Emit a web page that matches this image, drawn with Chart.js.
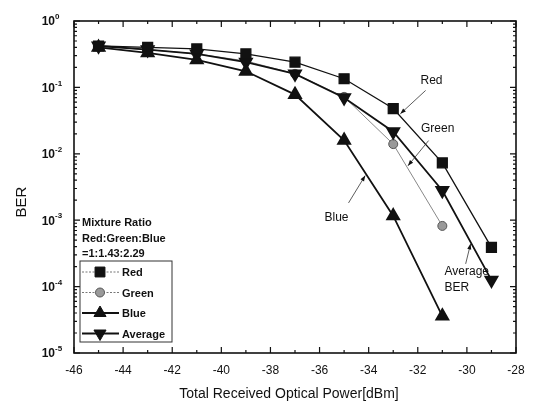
<!DOCTYPE html>
<html>
<head>
<meta charset="utf-8">
<script src="https://cdn.jsdelivr.net/npm/chart.js@4/dist/chart.umd.min.js"></script>
<style>
  html, body { margin: 0; padding: 0; background: #fff; }
  #wrap { width: 536px; height: 401px; }
</style>
</head>
<body>
<div id="wrap"><canvas id="chart" width="536" height="401"></canvas></div>
<script>
// 横軸の値 (dBm) と各色の BER
const powers = [-45, -43, -41, -39, -37, -35, -33, -31, -29];
const redBer = [0.42, 0.40, 0.38, 0.32, 0.24, 0.135, 0.048, 0.0073, 0.00039];
const greenBer = [0.42, 0.37, 0.32, 0.25, 0.16, 0.072, 0.014, 0.00082];
const blueBer = [0.40, 0.33, 0.26, 0.175, 0.078, 0.016, 0.00116, 0.000036];
const averageBer = [0.42, 0.37, 0.32, 0.24, 0.16, 0.07, 0.0215, 0.0028, 0.000125];

const xTicks = [-46, -44, -42, -40, -38, -36, -34, -32, -30, -28];
const yExponents = [0, -1, -2, -3, -4, -5];
const ratioText = ["Mixture Ratio", "Red:Green:Blue", "=1:1.43:2.29"];
const legendNames = ["Red", "Green", "Blue", "Average"];

// 注記 (文字位置と矢印はデータ座標)
const notes = [
  { lines: ["Red"], x: -31.44, y: 0.127, align: "center", from: [-31.68, 0.09], to: [-32.71, 0.04] },
  { lines: ["Green"], x: -31.19, y: 0.024, align: "center", from: [-31.56, 0.0158], to: [-32.4, 0.0066] },
  { lines: ["Blue"], x: -35.31, y: 0.00108, align: "center", from: [-34.82, 0.00182], to: [-34.14, 0.0047] },
  { lines: ["Average", "BER"], x: -30.91, y: 0.00017, align: "left", from: [-30.05, 0.00022], to: [-29.85, 0.00044] }
];

const FONT = "'Liberation Sans', Arial, sans-serif";

function pairs(ys) {
  return ys.map((y, i) => ({ x: powers[i], y: y }));
}

const datasets = [
  { label: "Red", data: pairs(redBer), borderColor: "#111", borderWidth: 1.3, pointStyle: "rect", pointRadius: 7,
    pointBackgroundColor: "#111", pointBorderColor: "#111" },
  { label: "Green", data: pairs(greenBer), order: 1, borderColor: "#888", borderWidth: 1, pointStyle: "circle", pointRadius: 4.5,
    pointBackgroundColor: "#9a9a9a", pointBorderColor: "#555", pointBorderWidth: 1 },
  { label: "Blue", data: pairs(blueBer), borderColor: "#111", borderWidth: 1.8, pointStyle: "triangle", pointRadius: 7,
    pointBackgroundColor: "#111", pointBorderColor: "#111" },
  { label: "Average", data: pairs(averageBer), borderColor: "#111", borderWidth: 1.8, pointStyle: "triangle", pointRotation: 180,
    pointRadius: 7, pointBackgroundColor: "#111", pointBorderColor: "#111" }
];

// 軸の目盛り・枠・文字・凡例・注記をまとめて描く
const decorPlugin = {
  id: "decor",
  afterDraw(chart) {
    const ctx = chart.ctx;
    const a = chart.chartArea;
    const xs = chart.scales.x;
    const ys = chart.scales.y;
    ctx.save();
    ctx.strokeStyle = "#111";
    ctx.fillStyle = "#111";

    // 枠
    ctx.lineWidth = 1.6;
    ctx.strokeRect(a.left, a.top, a.right - a.left, a.bottom - a.top);

    // x 目盛り (上下, 内向き)
    ctx.lineWidth = 1.2;
    for (let v = xTicks[0]; v <= xTicks[xTicks.length - 1]; v++) {
      const px = xs.getPixelForValue(v);
      const len = (v % 2 === 0) ? 6 : 3;
      ctx.beginPath();
      ctx.moveTo(px, a.bottom); ctx.lineTo(px, a.bottom - len);
      ctx.moveTo(px, a.top); ctx.lineTo(px, a.top + len);
      ctx.stroke();
    }
    // y 目盛り (左右, 内向き, 補助目盛りつき)
    yExponents.forEach(e => {
      const py = ys.getPixelForValue(Math.pow(10, e));
      ctx.beginPath();
      ctx.moveTo(a.left, py); ctx.lineTo(a.left + 6, py);
      ctx.moveTo(a.right, py); ctx.lineTo(a.right - 6, py);
      ctx.stroke();
      if (e > yExponents[yExponents.length - 1]) {
        for (let m = 2; m <= 9; m++) {
          const pm = ys.getPixelForValue(m * Math.pow(10, e - 1));
          ctx.beginPath();
          ctx.moveTo(a.left, pm); ctx.lineTo(a.left + 3, pm);
          ctx.moveTo(a.right, pm); ctx.lineTo(a.right - 3, pm);
          ctx.stroke();
        }
      }
    });

    // x 目盛りラベル
    ctx.font = "12px " + FONT;
    ctx.textAlign = "center";
    ctx.textBaseline = "middle";
    xTicks.forEach(v => {
      ctx.fillText(String(v), xs.getPixelForValue(v), a.bottom + 18);
    });
    // y 目盛りラベル 10^n
    yExponents.forEach(e => {
      const py = ys.getPixelForValue(Math.pow(10, e));
      ctx.font = "bold 12px " + FONT;
      ctx.textAlign = "right";
      ctx.fillText("10", a.left - 19, py + 1);
      ctx.font = "bold 8px " + FONT;
      ctx.textAlign = "left";
      ctx.fillText(e === 0 ? "0" : "-" + Math.abs(e), a.left - 19, py - 4);
    });

    // 軸タイトル
    ctx.font = "14px " + FONT;
    ctx.textAlign = "center";
    ctx.fillText("Total Received Optical Power[dBm]", (a.left + a.right) / 2 - 6, a.bottom + 41);
    ctx.save();
    ctx.translate(22, 202);
    ctx.rotate(-Math.PI / 2);
    ctx.font = "15px " + FONT;
    ctx.fillText("BER", 0, 0);
    ctx.restore();

    // 混合比の文字
    ctx.font = "bold 11px " + FONT;
    ctx.textAlign = "left";
    ratioText.forEach((t, i) => ctx.fillText(t, a.left + 8, 223 + i * 15.5));

    // 凡例
    const bx = a.left + 6, by = 261, bw = 92, bh = 81;
    ctx.lineWidth = 1;
    ctx.strokeStyle = "#333";
    ctx.strokeRect(bx, by, bw, bh);
    legendNames.forEach((name, i) => {
      const ds = chart.data.datasets[i];
      const ly = by + 11 + i * 20.5;
      ctx.save();
      ctx.strokeStyle = i < 2 ? "#777" : "#111";
      ctx.lineWidth = i < 2 ? 1 : 1.8;
      ctx.setLineDash(i < 2 ? [2, 1.5] : []);
      ctx.beginPath();
      ctx.moveTo(bx + 2, ly); ctx.lineTo(bx + 39, ly);
      ctx.stroke();
      ctx.restore();
      ctx.save();
      ctx.fillStyle = ds.pointBackgroundColor;
      ctx.strokeStyle = ds.pointBorderColor;
      ctx.lineWidth = 1;
      Chart.helpers.drawPoint(ctx, {
        pointStyle: ds.pointStyle, rotation: ds.pointRotation || 0,
        radius: ds.pointRadius, borderWidth: 1
      }, bx + 20, ly);
      ctx.restore();
      ctx.font = "bold 11px " + FONT;
      ctx.fillStyle = "#111";
      ctx.fillText(name, bx + 42, ly + 1);
    });

    // 注記と矢印
    notes.forEach(n => {
      ctx.font = "12px " + FONT;
      ctx.fillStyle = "#111";
      ctx.textAlign = n.align;
      const tx = xs.getPixelForValue(n.x), ty = ys.getPixelForValue(n.y);
      n.lines.forEach((l, i) => ctx.fillText(l, tx, ty + i * 16));
      const x1 = xs.getPixelForValue(n.from[0]), y1 = ys.getPixelForValue(n.from[1]);
      const x2 = xs.getPixelForValue(n.to[0]), y2 = ys.getPixelForValue(n.to[1]);
      ctx.strokeStyle = "#333";
      ctx.lineWidth = 0.8;
      ctx.beginPath(); ctx.moveTo(x1, y1); ctx.lineTo(x2, y2); ctx.stroke();
      const ang = Math.atan2(y2 - y1, x2 - x1);
      ctx.beginPath();
      ctx.moveTo(x2, y2);
      ctx.lineTo(x2 - 6 * Math.cos(ang - 0.35), y2 - 6 * Math.sin(ang - 0.35));
      ctx.lineTo(x2 - 6 * Math.cos(ang + 0.35), y2 - 6 * Math.sin(ang + 0.35));
      ctx.closePath();
      ctx.fillStyle = "#111";
      ctx.fill();
    });
    ctx.restore();
  }
};

new Chart(document.getElementById("chart").getContext("2d"), {
  type: "line",
  data: { datasets },
  options: {
    responsive: false,
    animation: false,
    layout: { padding: { left: 66, right: 20, top: 21, bottom: 40 } },
    scales: {
      x: { type: "linear", min: -46, max: -28, grid: { display: false }, border: { display: false },
        ticks: { display: false } },
      y: { type: "logarithmic", min: 1e-5, max: 1, grid: { display: false }, border: { display: false },
        ticks: { display: false } }
    },
    elements: { line: { tension: 0 } },
    plugins: { legend: { display: false }, tooltip: { enabled: false } }
  },
  plugins: [decorPlugin]
});
</script>
</body>
</html>
